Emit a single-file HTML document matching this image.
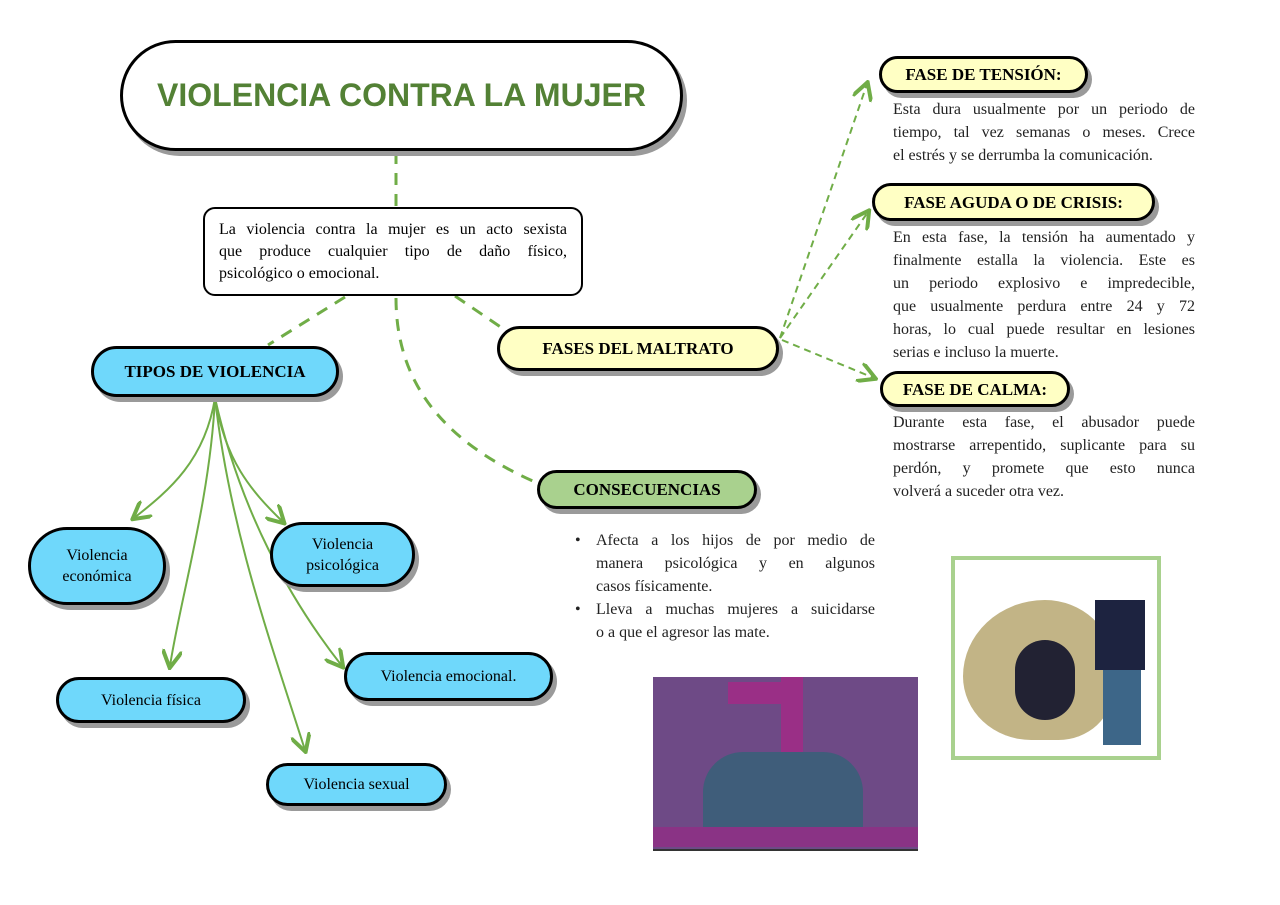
<!DOCTYPE html>
<html><head><meta charset="utf-8"><style>
body{margin:0;width:1280px;height:905px;background:#fff;position:relative;overflow:hidden;font-family:"Liberation Serif",serif;}
.p{position:absolute;border:3px solid #000;border-radius:40px;box-shadow:4px 5px 0 #9a9a9a;display:flex;align-items:center;justify-content:center;text-align:center;box-sizing:border-box;color:#000;font-size:16px;line-height:21px}
.b{font-weight:bold;font-size:17px}
.c{background:#6fd8fb}.y{background:#ffffc4}
.t{position:absolute;font-size:16px;line-height:23px;color:#222}
.t div.j,.j{text-align:justify;text-align-last:justify;white-space:nowrap}
</style></head><body>
<svg width="1280" height="905" style="position:absolute;left:0;top:0">
<defs><marker id="a" markerWidth="10" markerHeight="10" refX="8" refY="5" orient="auto"><path d="M0,0 L9,5 L0,10" fill="none" stroke="#70ad47" stroke-width="2"/></marker></defs>
<g stroke="#70ad47" stroke-width="3" fill="none" stroke-dasharray="12,9">
<path d="M396 152 L396 207"/>
<path d="M345 297 L268 345"/>
<path d="M455 296 L505 330"/>
<path d="M396 298 C396 380 440 440 535 482"/>
</g>
<g stroke="#70ad47" stroke-width="2" fill="none" stroke-dasharray="7,5" marker-end="url(#a)">
<path d="M780 338 L867 84"/>
<path d="M780 338 L868 212"/>
<path d="M782 340 L874 378"/>
</g>
<g stroke="#70ad47" stroke-width="2" fill="none" marker-end="url(#a)">
<path d="M215 398 C205 460 170 490 134 518"/>
<path d="M215 398 C225 460 250 490 283 522"/>
<path d="M215 398 C210 500 180 600 170 666"/>
<path d="M215 398 C230 530 270 640 305 750"/>
<path d="M215 398 C240 510 290 600 342 666"/>
</g>
</svg>
<div class="p" style="left:120px;top:40px;width:563px;height:111px;border-radius:56px;background:#fff;font-family:'Liberation Sans',sans-serif;font-weight:bold;font-size:32px;color:#538135">VIOLENCIA CONTRA LA MUJER</div>
<div class="p" style="left:203px;top:207px;width:380px;height:89px;border-radius:12px;border-width:2px;box-shadow:none;background:#fff;display:block;padding:10px 14px 0 14px;font-size:16px;line-height:22px;text-align:left">
<div class="j">La violencia contra la mujer es un acto sexista</div>
<div class="j">que produce cualquier tipo de daño físico,</div>
<div>psicológico o emocional.</div></div>
<div class="p c b" style="left:91px;top:346px;width:248px;height:51px">TIPOS DE VIOLENCIA</div>
<div class="p y b" style="left:497px;top:326px;width:282px;height:45px">FASES DEL MALTRATO</div>
<div class="p b" style="left:537px;top:470px;width:220px;height:39px;background:#a9d18e">CONSECUENCIAS</div>
<div class="p y b" style="left:879px;top:56px;width:209px;height:37px">FASE DE TENSIÓN:</div>
<div class="p y b" style="left:872px;top:183px;width:283px;height:38px">FASE AGUDA O DE CRISIS:</div>
<div class="p y b" style="left:880px;top:371px;width:190px;height:36px">FASE DE CALMA:</div>
<div class="t" style="left:893px;top:98px;width:302px">
<div class="j">Esta dura usualmente por un periodo de</div>
<div class="j">tiempo, tal vez semanas o meses. Crece</div>
<div>el estrés y se derrumba la comunicación.</div></div>
<div class="t" style="left:893px;top:226px;width:302px">
<div class="j">En esta fase, la tensión ha aumentado y</div>
<div class="j">finalmente estalla la violencia. Este es</div>
<div class="j">un periodo explosivo e impredecible,</div>
<div class="j">que usualmente perdura entre 24 y 72</div>
<div class="j">horas, lo cual puede resultar en lesiones</div>
<div>serias e incluso la muerte.</div></div>
<div class="t" style="left:893px;top:411px;width:302px">
<div class="j">Durante esta fase, el abusador puede</div>
<div class="j">mostrarse arrepentido, suplicante para su</div>
<div class="j">perdón, y promete que esto nunca</div>
<div>volverá a suceder otra vez.</div></div>
<div class="p c" style="left:28px;top:527px;width:138px;height:78px">Violencia<br>económica</div>
<div class="p c" style="left:270px;top:522px;width:145px;height:65px">Violencia<br>psicológica</div>
<div class="p c" style="left:56px;top:677px;width:190px;height:46px">Violencia física</div>
<div class="p c" style="left:344px;top:652px;width:209px;height:49px">Violencia emocional.</div>
<div class="p c" style="left:266px;top:763px;width:181px;height:43px">Violencia sexual</div>
<div class="t" style="left:575px;top:529px;width:300px">
<div style="position:relative;padding-left:21px">
<span style="position:absolute;left:0">•</span>
<div class="j">Afecta a los hijos de por medio de</div>
<div class="j">manera psicológica y en algunos</div>
<div>casos físicamente.</div></div>
<div style="position:relative;padding-left:21px">
<span style="position:absolute;left:0">•</span>
<div class="j">Lleva a muchas mujeres a suicidarse</div>
<div>o a que el agresor las mate.</div></div></div>
<div style="position:absolute;left:653px;top:677px;width:265px;height:172px;background:#6e4a86;border-bottom:2px solid #333">
<div style="position:absolute;left:75px;top:5px;width:62px;height:22px;background:#9a2f86"></div>
<div style="position:absolute;left:128px;top:0;width:22px;height:95px;background:#9a2f86"></div>
<div style="position:absolute;left:50px;top:75px;width:160px;height:80px;background:#3f5d7a;border-radius:40px 40px 0 0"></div>
<div style="position:absolute;left:0;top:150px;width:265px;height:20px;background:#8a3385"></div></div>
<div style="position:absolute;left:951px;top:556px;width:210px;height:204px;border:4px solid #a9d18e;box-sizing:border-box;background:#fff">
<div style="position:absolute;left:8px;top:40px;width:150px;height:140px;background:#c2b486;border-radius:60% 50% 40% 50%"></div>
<div style="position:absolute;left:140px;top:40px;width:50px;height:70px;background:#1d2340"></div>
<div style="position:absolute;left:148px;top:110px;width:38px;height:75px;background:#3d6688"></div>
<div style="position:absolute;left:60px;top:80px;width:60px;height:80px;background:#223;border-radius:30px"></div></div>
</body></html>
